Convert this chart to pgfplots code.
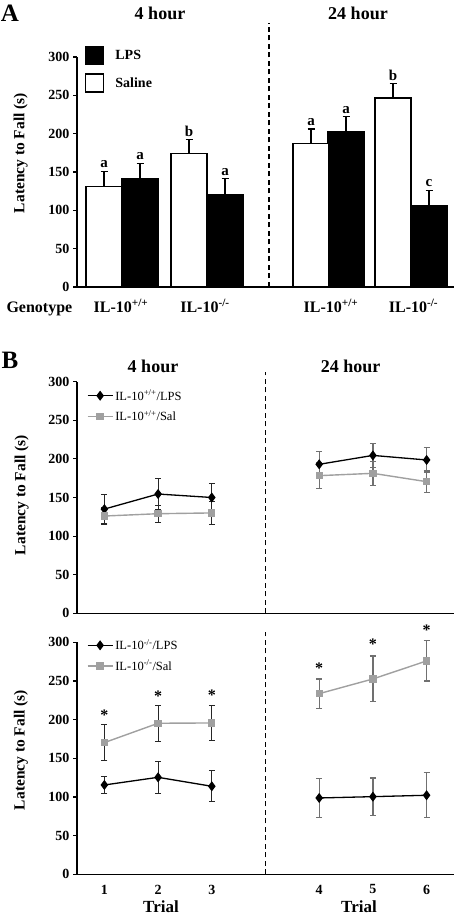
\documentclass[border=0pt]{standalone}
\usepackage{pgfplots}
\pgfplotsset{compat=1.18}
\usepackage{fontspec}
\setmainfont{Liberation Serif}
\definecolor{salgray}{HTML}{A0A0A0}
\definecolor{errgray}{HTML}{707070}
\newcommand{\fs}[1]{\fontsize{#1}{#1}\selectfont}
\pgfplotsset{
  common/.style={
    scale only axis, width=377pt,
    ymin=0, ymax=300, ytick={0,50,...,300},
    axis lines*=left, tick align=outside, major tick length=4pt,
    axis line style={line width=1.3pt}, tick style={line width=1.1pt, black},
    y tick label style={font=\fs{14}\bfseries},
    /pgf/number format/assume math mode=true,
    clip=false,
  },
  bcommon/.style={
    common, xmin=0.49, xmax=7.51,
    legend cell align=left,
    legend image code/.code={\draw[mark repeat=2, mark phase=2, ##1] plot coordinates {(0pt,0pt) (12.5pt,0pt) (25pt,0pt)};},
    legend style={at={(axis description cs:0,1)}, anchor=north west, draw=none, fill=none,
      font=\fs{12.5}, inner sep=0pt, row sep=5pt},
  },
  lpsline/.style={black, line width=1.3pt, mark=diamond*, mark size=4pt, mark options={solid, fill=black}},
  salline/.style={salgray, line width=1.4pt, mark=square*, mark size=3pt, mark options={solid, fill=salgray}},
  errL/.style={error bars/.cd, y dir=both, y explicit, error bar style={line width=0.9pt, black!85}, error mark options={rotate=90, mark size=3pt, line width=0.9pt, black!85}, /pgfplots/.cd},
  errR/.style={error bars/.cd, y dir=both, y explicit, error bar style={line width=1.3pt, errgray}, error mark options={rotate=90, mark size=3pt, line width=1.3pt, errgray}, /pgfplots/.cd},
}
\begin{document}
\begin{tikzpicture}
\useasboundingbox (0,0) rectangle (454pt,916pt);

% ---------------- Panel A ----------------
\begin{axis}[common, at={(77pt,629pt)}, anchor=south west, height=230pt,
  xmin=77, xmax=454, xtick=\empty,
  ybar, bar width=36, bar shift=0pt,
  legend cell align=left,
  legend image code/.code={\draw[#1, line width=1.2pt] (0pt,-9pt) rectangle (18pt,9pt);},
  legend style={at={(axis description cs:0,1)}, anchor=north west, xshift=8pt, yshift=11.5pt,
    draw=none, fill=none, inner sep=0pt, row sep=8.5pt, font=\fs{14}\bfseries,
    nodes={inner sep=0pt, text depth=0pt}, column sep=11pt},
]
\addplot[ybar, bar shift=0pt, fill=black, draw=black, line width=1.2pt,
  error bars/.cd, y dir=plus, y explicit,
  error bar style={line width=1.2pt, black},
  error mark options={rotate=90, mark size=3.5pt, line width=1.2pt, black}]
  table[x=x, y=y, y error=e] {
  x   y     e
  140 142   19
  225 120   21
  346 203   19
  429 105.6 20.4
};
\addlegendentry{LPS}
\addplot[ybar, bar shift=0pt, fill=white, draw=black, line width=1.2pt,
  error bars/.cd, y dir=plus, y explicit,
  error bar style={line width=1.2pt, black},
  error mark options={rotate=90, mark size=3.5pt, line width=1.2pt, black}]
  table[x=x, y=y, y error=e] {
  x   y     e
  104 131   20
  189 174   18
  311 187   19
  393 246.5 18.5
};
\addlegendentry{Saline}
\draw[line width=1.4pt, dash pattern=on 5pt off 3.5pt] (axis cs:269,0) -- (axis cs:269,344);
\begin{scope}[every node/.style={anchor=south, font=\fs{15}\bfseries}]
\node at (axis cs:104,151) {a};
\node at (axis cs:140,161) {a};
\node at (axis cs:189,192) {b};
\node at (axis cs:225,141) {a};
\node at (axis cs:311,206) {a};
\node at (axis cs:346,222) {a};
\node at (axis cs:393,265) {b};
\node at (axis cs:429,126) {c};
\end{scope}
\end{axis}

\node[font=\fs{25}\bfseries] at (10pt,903pt) {A};
\node[font=\fs{18}\bfseries] at (160pt,903pt) {4 hour};
\node[font=\fs{18}\bfseries] at (358pt,903pt) {24 hour};
\node[rotate=90, font=\fs{15.5}\bfseries] at (20.7pt,763pt) {Latency to Fall (s)};
\node[anchor=base west, font=\fs{16}\bfseries] at (3pt,603pt) {Genotype};
\node[anchor=base, font=\fs{16}\bfseries] at (121pt,603pt) {IL-10\textsuperscript{+/+}};
\node[anchor=base, font=\fs{16}\bfseries] at (205pt,603pt) {IL-10\textsuperscript{-/-}};
\node[anchor=base, font=\fs{16}\bfseries] at (331pt,603pt) {IL-10\textsuperscript{+/+}};
\node[anchor=base, font=\fs{16}\bfseries] at (413.5pt,603pt) {IL-10\textsuperscript{-/-}};

% ---------------- Panel B top ----------------
\begin{axis}[bcommon, at={(77pt,302.7pt)}, anchor=south west, height=231.6pt,
  xtick=\empty,
  legend style={xshift=9.7pt, yshift=-6pt},
]
\addplot[lpsline, errL] table[x=x, y=y, y error=e] {
  x y     e
  1 135   19
  2 154.5 20
  3 150   18.6
};
\addlegendentry{IL-10\textsuperscript{+/+}/LPS}
\addplot[salline, errL] table[x=x, y=y, y error=e] {
  x y   e
  1 126 11
  2 129 11
  3 130 15.5
};
\addlegendentry{IL-10\textsuperscript{+/+}/Sal}
\addplot[forget plot, salline, errR] table[x=x, y=y, y error=e] {
  x y     e
  5 178.3 16.4
  6 181.3 15.5
  7 170.5 13.8
};
\addplot[forget plot, lpsline, errR] table[x=x, y=y, y error=e] {
  x y     e
  5 193   16.5
  6 204.5 15.5
  7 198.6 16
};
\draw[line width=1.4pt, dash pattern=on 5pt off 3.5pt] (axis cs:4,0) -- (axis cs:4,312.6);
\end{axis}

\node[font=\fs{25}\bfseries] at (10pt,555.3pt) {B};
\node[font=\fs{18}\bfseries] at (153pt,549.3pt) {4 hour};
\node[font=\fs{18}\bfseries] at (350.7pt,549.3pt) {24 hour};
\node[rotate=90, font=\fs{15.5}\bfseries] at (21.7pt,421pt) {Latency to Fall (s)};

% ---------------- Panel B bottom ----------------
\begin{axis}[bcommon, at={(77pt,41.7pt)}, anchor=south west, height=232pt,
  xtick={1,2,3,5,6,7}, xticklabels={1,2,3,4,5,6}, xtick style={draw=none},
  x tick label style={font=\fs{14}\bfseries, yshift=-3pt},
  legend style={xshift=9.7pt, yshift=5pt},
]
\addplot[forget plot, salline, errL] table[x=x, y=y, y error=e] {
  x y     e
  1 170.3 23
  2 195.3 23
  3 195.7 22
};
\addplot[lpsline, errL] table[x=x, y=y, y error=e] {
  x y     e
  1 115.5 11.6
  2 125.4 21
  3 113.8 20
};
\addlegendentry{IL-10\textsuperscript{-/-}/LPS}
\addlegendimage{salline}
\addlegendentry{IL-10\textsuperscript{-/-}/Sal}
\addplot[forget plot, salline, errR] table[x=x, y=y, y error=e] {
  x y     e
  5 233.6 19
  6 252.6 29.5
  7 275.9 26
};
\addplot[forget plot, lpsline, errR] table[x=x, y=y, y error=e] {
  x y     e
  5 98.7  25.6
  6 100.4 24
  7 102.2 29
};
\draw[line width=1.4pt, dash pattern=on 5pt off 3.5pt] (axis cs:4,0) -- (axis cs:4,313.3);
\begin{scope}[every node/.style={font=\fs{16}\bfseries}]
\node at (axis cs:1,206) {*};
\node at (axis cs:2,230) {*};
\node at (axis cs:3,231) {*};
\node at (axis cs:5,267) {*};
\node at (axis cs:6,297) {*};
\node at (axis cs:7,315) {*};
\end{scope}
\end{axis}

\node[rotate=90, font=\fs{15.5}\bfseries] at (21pt,166pt) {Latency to Fall (s)};
\node[anchor=base, inner sep=0pt, font=\fs{17}\bfseries] at (161pt,4pt) {Trial};
\node[anchor=base, inner sep=0pt, font=\fs{17}\bfseries] at (359pt,4pt) {Trial};
\end{tikzpicture}
\end{document}
